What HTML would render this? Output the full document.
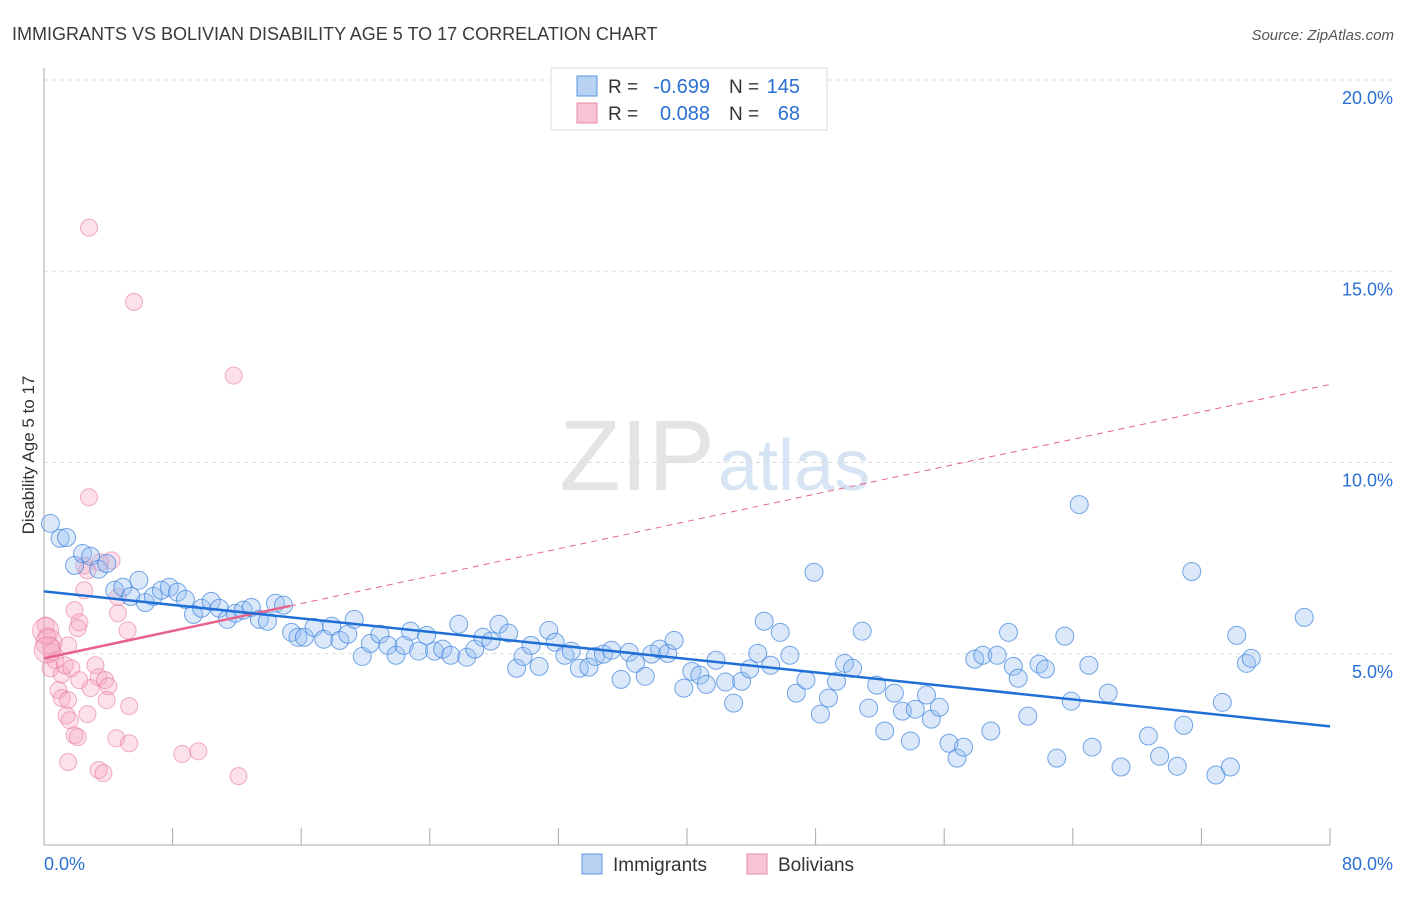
<!DOCTYPE html>
<html><head><meta charset="utf-8"><style>
body{margin:0;background:#fff;font-family:"Liberation Sans",sans-serif}
svg text{font-family:"Liberation Sans",sans-serif}
</style></head><body>
<svg id="c" width="1406" height="892">
<text x="12" y="40" font-size="18" fill="#3a3a3a">IMMIGRANTS VS BOLIVIAN DISABILITY AGE 5 TO 17 CORRELATION CHART</text>
<text x="1394" y="40" font-size="15" fill="#555" font-style="italic" text-anchor="end">Source: ZipAtlas.com</text>
<text x="34" y="455" font-size="17" fill="#333" transform="rotate(-90 34 455)" text-anchor="middle">Disability Age 5 to 17</text>
<text x="715" y="490" font-size="100" fill="#e4e4e4" text-anchor="end" font-family="Liberation Serif">ZIP</text>
<text x="718" y="490" font-size="72" fill="#d6e4f4">atlas</text>
<g id="grid"></g><g id="pts"></g><g id="lines"></g>
<g>
<rect x="551" y="68" width="276" height="62" fill="#fff" stroke="#ddd"/>
<rect x="577" y="76" width="20" height="20" fill="#b8d2f3" stroke="#5a96e0"/>
<rect x="577" y="103" width="20" height="20" fill="#f8c4d4" stroke="#e88aa8"/>
<text x="608" y="93" font-size="19" fill="#333">R =</text>
<text x="710" y="93" font-size="20" fill="#2a6fd3" text-anchor="end">-0.699</text>
<text x="729" y="93" font-size="19" fill="#333">N =</text>
<text x="800" y="93" font-size="20" fill="#2a6fd3" text-anchor="end">145</text>
<text x="608" y="120" font-size="19" fill="#333">R =</text>
<text x="710" y="120" font-size="20" fill="#2a6fd3" text-anchor="end">0.088</text>
<text x="729" y="120" font-size="19" fill="#333">N =</text>
<text x="800" y="120" font-size="20" fill="#2a6fd3" text-anchor="end">68</text>
</g>
<g>
<rect x="582" y="854" width="20" height="20" fill="#b8d2f3" stroke="#5a96e0"/>
<text x="613" y="871" font-size="19" fill="#333">Immigrants</text>
<rect x="747" y="854" width="20" height="20" fill="#f8c4d4" stroke="#e88aa8"/>
<text x="778" y="871" font-size="19" fill="#333">Bolivians</text>
</g>
</svg>
<script>
const yTicks=[5,10,15,20];
const xTickLabels=["0.0%","80.0%"];
const blueX=[0.4,1.0,1.4,1.9,2.4,2.9,3.4,3.9,4.4,4.9,5.4,5.9,6.3,6.8,7.3,7.8,8.3,8.8,9.3,9.8,10.4,10.9,11.4,11.9,12.4,12.9,13.4,13.9,14.4,14.9,15.4,15.8,16.2,16.8,17.4,17.9,18.4,18.9,19.3,19.8,20.3,20.9,21.4,21.9,22.4,22.8,23.3,23.8,24.3,24.8,25.3,25.8,26.3,26.8,27.3,27.8,28.3,28.9,29.4,29.8,30.3,30.8,31.4,31.8,32.4,32.8,33.3,33.9,34.3,34.8,35.3,35.9,36.4,36.8,37.4,37.8,38.3,38.8,39.2,39.8,40.3,40.8,41.2,41.8,42.4,42.9,43.4,43.9,44.4,44.8,45.2,45.8,46.4,46.8,47.4,47.9,48.3,48.8,49.3,49.8,50.3,50.9,51.3,51.8,52.3,52.9,53.4,53.9,54.2,54.9,55.2,55.7,56.3,56.8,57.2,57.9,58.4,58.9,59.3,60.0,60.3,60.6,61.2,61.9,62.3,63.0,63.5,63.9,64.4,65.0,65.2,66.2,67.0,68.7,69.4,70.5,70.9,71.4,72.9,73.3,73.8,74.2,74.8,75.1,78.4];
const blueY=[8.41,8.02,8.04,7.31,7.62,7.55,7.21,7.36,6.66,6.74,6.50,6.92,6.34,6.50,6.66,6.74,6.61,6.42,6.03,6.19,6.37,6.19,5.90,6.06,6.14,6.21,5.90,5.85,6.32,6.27,5.56,5.43,5.43,5.69,5.38,5.72,5.35,5.51,5.90,4.93,5.27,5.51,5.22,4.96,5.22,5.59,5.07,5.48,5.07,5.12,4.96,5.77,4.91,5.12,5.43,5.33,5.77,5.54,4.62,4.93,5.22,4.67,5.61,5.30,4.96,5.07,4.62,4.65,4.93,4.99,5.09,4.33,5.04,4.75,4.41,4.99,5.12,5.01,5.35,4.10,4.54,4.44,4.20,4.83,4.26,3.71,4.28,4.60,5.01,5.85,4.70,5.56,4.96,3.97,4.31,7.13,3.42,3.84,4.28,4.75,4.62,5.59,3.58,4.18,2.98,3.97,3.50,2.72,3.55,3.92,3.29,3.60,2.66,2.27,2.56,4.86,4.96,2.98,4.96,5.56,4.67,4.36,3.37,4.73,4.60,2.27,5.46,3.76,8.90,4.70,2.56,3.97,2.04,2.85,2.32,2.06,3.13,7.15,1.83,3.73,2.04,5.48,4.75,4.88,5.95];
const pinkX=[2.8,5.6,11.8,2.8,0.1,0.2,0.4,0.5,0.7,0.4,0.9,1.1,1.5,1.9,2.2,2.1,1.1,1.5,1.4,1.6,1.9,2.1,1.5,1.3,1.7,2.5,2.5,2.7,3.2,2.9,3.4,3.7,3.4,3.8,4.0,3.9,4.2,4.6,4.6,5.2,4.5,5.3,5.3,8.6,9.6,12.1,2.7,2.2,3.5,0.1,0.3,0.2];
const pinkY=[16.14,14.20,12.27,9.09,5.74,5.46,5.22,5.04,4.83,4.62,4.05,4.46,5.22,6.14,5.82,5.67,3.84,3.79,3.39,3.26,2.87,2.82,2.17,4.70,4.62,6.66,7.31,7.18,4.70,4.10,1.96,1.88,4.39,4.31,4.15,3.79,7.44,6.48,6.06,5.61,2.79,3.63,2.66,2.38,2.45,1.80,3.42,4.31,7.39,5.60,5.30,5.10];
const blueTrend=[6.63,3.1];
const pinkTrend=[4.88,12.04];
const X0=44,X1=1330,Y0=845,Y20=80;
const sx=v=>X0+(X1-X0)*v/80, sy=v=>Y0-(Y0-Y20)*v/20;
const NS="http://www.w3.org/2000/svg";
function mk(tag,attrs,parent){const e=document.createElementNS(NS,tag);for(const k in attrs)e.setAttribute(k,attrs[k]);parent.appendChild(e);return e;}
const grid=document.getElementById('grid');
yTicks.forEach(t=>{
 const l=mk('line',{x1:44,x2:1393,y1:sy(t),y2:sy(t),stroke:'#ddd','stroke-dasharray':'4,4'},grid);
 
 
 const tx=mk('text',{x:1393,y:sy(t)+24,'font-size':18,fill:'#2a6fd3','text-anchor':'end'},grid);
 tx.textContent=t.toFixed(1)+'%';
 
 
});
const ax=mk('line',{x1:44,x2:44,y1:68,y2:845,stroke:'#aaa'},grid);


const bx=mk('line',{x1:44,x2:1330,y1:845,y2:845,stroke:'#aaa'},grid);


for(let i=0;i<=10;i++){const t=mk('line',{x1:sx(i*8),x2:sx(i*8),y1:828,y2:845,stroke:'#aaa'},grid);
 
 }
[[0,'start',44],[80,'end',1393]].forEach((d,i)=>{const t=mk('text',{x:d[2],y:870,'font-size':18,fill:'#2a6fd3','text-anchor':d[1]},grid);t.textContent=xTickLabels[i];
 
 });
const pts=document.getElementById('pts');
pinkX.forEach((x,i)=>{const c=mk('circle',{cx:sx(x),cy:sy(pinkY[i]),r:(i>=49?13:8.5),fill:'rgba(246,170,196,0.35)',stroke:'rgba(232,120,160,0.6)','stroke-width':1},pts);
 
 });
blueX.forEach((x,i)=>{const c=mk('circle',{cx:sx(x),cy:sy(blueY[i]),r:9,fill:'rgba(150,190,240,0.35)',stroke:'rgba(60,130,220,0.7)','stroke-width':1},pts);
 
 });
const lines=document.getElementById('lines');
const pv=x=>pinkTrend[0]+(pinkTrend[1]-pinkTrend[0])*x/80;
const pd=mk('line',{x1:sx(15.3),y1:sy(pv(15.3)),x2:sx(80),y2:sy(pv(80)),stroke:'#e8638a','stroke-width':1,'stroke-dasharray':'6,5'},lines);


const ps=mk('line',{x1:sx(0),y1:sy(pv(0)),x2:sx(15.3),y2:sy(pv(15.3)),stroke:'#e8638a','stroke-width':2.5},lines);


const bl=mk('line',{x1:sx(0),y1:sy(blueTrend[0]),x2:sx(80),y2:sy(blueTrend[1]),stroke:'#1f6fd6','stroke-width':2.5},lines);


</script>
</body></html>
